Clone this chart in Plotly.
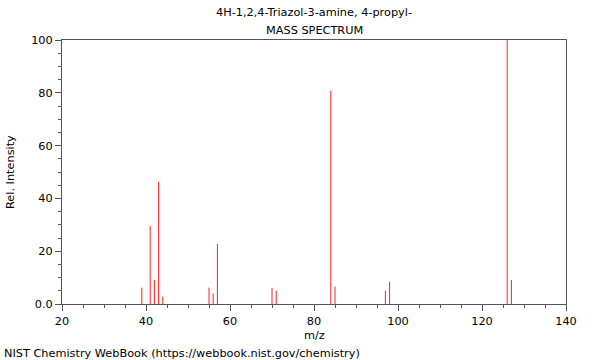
import plotly.graph_objects as go

mz = [39, 41, 42, 43, 44, 55, 56, 57, 70, 71, 84, 85, 97, 98, 126, 127]
intensity = [6.2, 29.5, 9.1, 46.3, 2.8, 6.2, 4.0, 22.7, 6.1, 5.0, 80.7, 6.6, 5.0, 8.5, 100.0, 9.1]

y_tickvals = [0, 20, 40, 60, 80, 100]
y_ticktext = ["0.0", "20", "40", "60", "80", "100"]
x_tickvals = [20, 40, 60, 80, 100, 120, 140]

title_line1 = "4H-1,2,4-Triazol-3-amine, 4-propyl-"
title_line2 = "MASS SPECTRUM"
x_title = "m/z"
y_title = "Rel. Intensity"
credit = "NIST Chemistry WebBook (https://webbook.nist.gov/chemistry)"

xs, ys = [], []
for m, i in zip(mz, intensity):
    xs += [m, m, None]
    ys += [0, i, None]

FONT = "DejaVu Sans"
AX = "#555555"
FS = 11.3

fig = go.Figure()
fig.add_trace(go.Scatter(x=xs, y=ys, mode="lines",
                         line=dict(color="#ff2020", width=1),
                         hoverinfo="skip", showlegend=False))

fig.update_layout(
    width=600, height=360,
    margin=dict(l=62, r=34, t=40, b=56),
    paper_bgcolor="white", plot_bgcolor="white",
    font=dict(family=FONT, size=FS, color="black"),
    xaxis=dict(range=[20, 140], tickvals=x_tickvals, showgrid=False, zeroline=False,
               showline=True, linecolor=AX, linewidth=1, mirror=True,
               ticks="outside", ticklen=6, tickcolor=AX,
               minor=dict(dtick=5, ticks="outside", ticklen=3, tickcolor=AX, showgrid=False),
               tickfont=dict(size=FS)),
    yaxis=dict(range=[0, 100], tickvals=y_tickvals, ticktext=y_ticktext, showgrid=False, zeroline=False,
               showline=True, linecolor=AX, linewidth=1, mirror=True,
               ticks="outside", ticklen=6, tickcolor=AX,
               minor=dict(dtick=5, ticks="outside", ticklen=3, tickcolor=AX, showgrid=False),
               tickfont=dict(size=FS)),
)

H = 264.0
def py(pix):
    return (304 - pix) / H

fig.add_annotation(text=title_line1, xref="paper", yref="paper", x=0.5, y=py(13),
                   xanchor="center", yanchor="middle", showarrow=False, font=dict(size=FS))
fig.add_annotation(text=title_line2, xref="paper", yref="paper", x=0.5, y=py(31),
                   xanchor="center", yanchor="middle", showarrow=False, font=dict(size=FS))
fig.add_annotation(text=x_title, xref="paper", yref="paper", x=0.5, y=py(335),
                   xanchor="center", yanchor="middle", showarrow=False, font=dict(size=FS))
fig.add_annotation(text=y_title, xref="paper", yref="paper", x=(10 - 62) / 504, y=0.5,
                   xanchor="center", yanchor="middle", textangle=-90, showarrow=False, font=dict(size=FS))
fig.add_annotation(text=credit, xref="paper", yref="paper", x=(2 - 62) / 504, y=py(353),
                   xanchor="left", yanchor="middle", showarrow=False, font=dict(size=FS))

fig.write_html("out.html", config={"displayModeBar": False},
               post_script="document.body.style.margin='0';document.body.style.overflow='hidden';")
